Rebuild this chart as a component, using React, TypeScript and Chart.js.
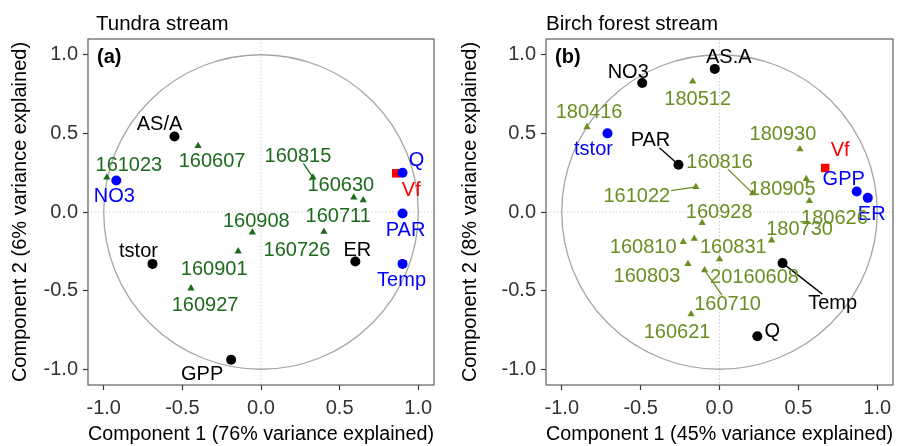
import React, { useEffect, useRef } from 'react';
import { Chart, registerables } from 'chart.js';
Chart.register(...registerables);

// ---------- shared axis ticks ----------
const axisTicks = [-1, -0.5, 0, 0.5, 1];

// ---------- Panel (a) Tundra stream ----------
const aTitle = 'Tundra stream';
const aTag = '(a)';
const aXTitle = 'Component 1 (76% variance explained)';
const aYTitle = 'Component 2 (6% variance explained)';
const aBlackNames = ['AS/A', 'tstor', 'GPP', 'ER'];
const aBlackX = [-0.55, -0.69, -0.19, 0.6];
const aBlackY = [0.48, -0.33, -0.94, -0.315];
const aBlueNames = ['NO3', 'Q', 'PAR', 'Temp'];
const aBlueX = [-0.92, 0.9, 0.9, 0.9];
const aBlueY = [0.2, 0.25, -0.01, -0.33];
const aRedNames = ['Vf'];
const aRedX = [0.86];
const aRedY = [0.246];
const aSampleNames = ['161023', '160607', '160815', '160630', '160711', '160908', '160726', '160901', '160927'];
const aSampleX = [-0.98, -0.4, 0.33, 0.59, 0.65, -0.055, 0.4, -0.145, -0.445];
const aSampleY = [0.22, 0.42, 0.22, 0.093, 0.075, -0.13, -0.125, -0.25, -0.485];

// ---------- Panel (b) Birch forest stream ----------
const bTitle = 'Birch forest stream';
const bTag = '(b)';
const bXTitle = 'Component 1 (45% variance explained)';
const bYTitle = 'Component 2 (8% variance explained)';
const bBlackNames = ['NO3', 'AS.A', 'PAR', 'Temp', 'Q'];
const bBlackX = [-0.49, -0.03, -0.26, 0.4, 0.24];
const bBlackY = [0.82, 0.91, 0.3, -0.325, -0.79];
const bBlueNames = ['tstor', 'GPP', 'ER'];
const bBlueX = [-0.71, 0.87, 0.94];
const bBlueY = [0.5, 0.13, 0.09];
const bRedNames = ['Vf'];
const bRedX = [0.67];
const bRedY = [0.28];
const bSampleNames = ['180512', '180416', '180930', '161022', '160816', '180905', '180626', '160928', '180730', '160810', '160831', '160803', '20160608', '160710', '160621'];
const bSampleX = [-0.17, -0.84, 0.51, -0.15, 0.21, 0.55, 0.57, -0.11, 0.33, -0.23, -0.16, -0.2, 0.0, -0.095, -0.18];
const bSampleY = [0.83, 0.54, 0.4, 0.16, 0.12, 0.21, 0.07, -0.07, -0.18, -0.19, -0.17, -0.33, -0.3, -0.37, -0.65];

// ---------- label placement (pixel offsets from the mark, like ggrepel) ----------
const aBlackLabelOffset = [[-15, -13], [-14, -13], [-29, 14], [2, -12]];
const aBlueLabelOffset = [[-2, 15], [14, -13], [3, 16], [-1, 16]];
const aRedLabelOffset = [[15, 16]];
const aSampleLabelOffset = [[22, -13], [14, 15], [-15, -22], [-13, -13], [-25, 15], [4, -12], [-27, 18], [-24, 17], [14, 16]];
const aBlackLeader = [false, false, false, false];
const aBlueLeader = [false, false, false, false];
const aSampleLeader = [false, false, true, false, false, false, false, false, false];

const bBlackLabelOffset = [[-14, -12], [14, -12], [-28, -25], [50, 39], [15, -6]];
const bBlueLabelOffset = [[-14, 15], [-13, -13], [4, 16]];
const bRedLabelOffset = [[15, -18]];
const bSampleLabelOffset = [[5, 17], [2, -16], [-17, -16], [-59, 9], [-33, -32], [-24, 10], [25, 16], [17, -12], [28, -12], [-40, 5], [39, 8], [-41, 12], [35, 17], [23, 33], [-14, 17]];
const bBlackLeader = [false, false, true, true, false];
const bBlueLeader = [false, false, false];
const bSampleLeader = [false, false, false, true, true, false, false, false, false, false, false, false, false, true, false];

const FONT = '"Liberation Sans", Arial, Helvetica, sans-serif';
const FS = 20;

type Group = { names: string[]; xs: number[]; ys: number[]; offs: number[][]; leaders: boolean[]; color: string };

function pts(xs: number[], ys: number[]) {
  return xs.map((x, i) => ({ x, y: ys[i] }));
}

function makeChart(canvas: HTMLCanvasElement, cfg: any) {
  const groups: Group[] = cfg.groups;
  const decor = {
    id: 'decor',
    beforeDatasetsDraw(chart: any) {
      const { ctx, chartArea: a, scales } = chart;
      const x0 = scales.x.getPixelForValue(0);
      const y0 = scales.y.getPixelForValue(0);
      ctx.save();
      ctx.strokeStyle = '#cfcfcf';
      ctx.lineWidth = 1;
      ctx.setLineDash([1.5, 2]);
      ctx.beginPath();
      ctx.moveTo(x0, a.top); ctx.lineTo(x0, a.bottom);
      ctx.moveTo(a.left, y0); ctx.lineTo(a.right, y0);
      ctx.stroke();
      ctx.setLineDash([]);
      const rx = scales.x.getPixelForValue(1) - x0;
      const ry = y0 - scales.y.getPixelForValue(1);
      ctx.strokeStyle = '#a6a6a6';
      ctx.lineWidth = 1.3;
      ctx.beginPath();
      ctx.ellipse(x0, y0, rx, ry, 0, 0, Math.PI * 2);
      ctx.stroke();
      ctx.restore();
    },
    afterDatasetsDraw(chart: any) {
      const { ctx } = chart;
      ctx.save();
      ctx.font = `${FS}px ${FONT}`;
      ctx.textAlign = 'center';
      ctx.textBaseline = 'middle';
      groups.forEach((g, gi) => {
        const meta = chart.getDatasetMeta(gi);
        g.names.forEach((name, i) => {
          const el = meta.data[i];
          const px = el.x, py = el.y;
          const lx = px + g.offs[i][0];
          const ly = py + g.offs[i][1];
          if (g.leaders[i]) {
            const hw = ctx.measureText(name).width / 2 + 1;
            const hh = 8;
            const dx = px - lx, dy = py - ly;
            let t = 1;
            if (dx !== 0) t = Math.min(t, hw / Math.abs(dx));
            if (dy !== 0) t = Math.min(t, hh / Math.abs(dy));
            const sx = lx + dx * t, sy = ly + dy * t;
            ctx.strokeStyle = g.color;
            ctx.lineWidth = 1.3;
            ctx.beginPath();
            ctx.moveTo(sx, sy);
            ctx.lineTo(px, py);
            ctx.stroke();
          }
        });
      });
      groups.forEach((g, gi) => {
        const meta = chart.getDatasetMeta(gi);
        ctx.fillStyle = g.color;
        g.names.forEach((name, i) => {
          const el = meta.data[i];
          ctx.fillText(name, el.x + g.offs[i][0], el.y + g.offs[i][1] + 1);
        });
      });
      ctx.restore();
    },
    afterDraw(chart: any) {
      const { ctx, chartArea: a } = chart;
      ctx.save();
      ctx.strokeStyle = '#5f5f5f';
      ctx.lineWidth = 1.2;
      ctx.strokeRect(a.left, a.top, a.right - a.left, a.bottom - a.top);
      ctx.fillStyle = '#000';
      ctx.textBaseline = 'alphabetic';
      ctx.textAlign = 'left';
      ctx.font = `20.5px ${FONT}`;
      ctx.fillText(cfg.title, 96, 30);
      ctx.font = `bold ${FS}px ${FONT}`;
      ctx.fillText(cfg.tag, a.left + 9, 63);
      ctx.restore();
    },
  };

  const tickFont = { family: FONT, size: FS };
  const fixTicks = (s: any) => { s.ticks = axisTicks.map((v) => ({ value: v })); };
  return new Chart(canvas, {
    type: 'scatter',
    data: {
      datasets: [
        { data: pts(groups[0].xs, groups[0].ys), pointStyle: 'circle', pointRadius: 5, backgroundColor: '#0000ff', borderColor: '#0000ff', borderWidth: 0 },
        { data: pts(groups[1].xs, groups[1].ys), pointStyle: 'circle', pointRadius: 5, backgroundColor: '#000000', borderColor: '#000000', borderWidth: 0 },
        { data: pts(groups[2].xs, groups[2].ys), pointStyle: 'rect', pointRadius: 6, backgroundColor: '#ff0000', borderColor: '#ff0000', borderWidth: 0 },
        { data: pts(groups[3].xs, groups[3].ys), pointStyle: 'triangle', pointRadius: 4.2, backgroundColor: cfg.green, borderColor: cfg.green, borderWidth: 0 },
      ],
    },
    options: {
      responsive: false,
      animation: false,
      events: [],
      layout: { padding: { left: 0, right: cfg.padRight, top: 39, bottom: 0 } },
      plugins: { legend: { display: false }, tooltip: { enabled: false }, title: { display: false } },
      scales: {
        x: {
          type: 'linear', min: -1.1, max: 1.1,
          afterBuildTicks: fixTicks,
          afterFit: (s: any) => { s.height = 61; },
          ticks: { font: tickFont, color: '#333333', padding: 6, maxRotation: 0, autoSkip: false, callback: (v: any) => Number(v).toFixed(1) },
          grid: { drawOnChartArea: false, drawTicks: true, tickLength: 5, tickColor: '#333333', tickWidth: 1.2 },
          border: { display: false },
          title: { display: true, text: cfg.xTitle, font: { family: FONT, size: FS }, color: '#000', padding: { top: 0, bottom: 0 } },
        },
        y: {
          type: 'linear', min: -1.1, max: 1.1,
          afterBuildTicks: fixTicks,
          afterFit: (s: any) => { s.width = cfg.yWidth; },
          ticks: { font: tickFont, color: '#333333', padding: 5, autoSkip: false, callback: (v: any) => Number(v).toFixed(1) },
          grid: { drawOnChartArea: false, drawTicks: true, tickLength: 5, tickColor: '#333333', tickWidth: 1.2 },
          border: { display: false },
          title: { display: true, text: cfg.yTitle, font: { family: FONT, size: FS }, color: '#000', padding: { top: 8, bottom: 0 } },
        },
      },
    },
    plugins: [decor],
  } as any);
}

const GREEN_A = '#1b6b1b';
const GREEN_B = '#6b8e23';

const panelA = {
  title: aTitle, tag: aTag, xTitle: aXTitle, yTitle: aYTitle, green: GREEN_A, yWidth: 88, padRight: 16,
  groups: [
    { names: aBlueNames, xs: aBlueX, ys: aBlueY, offs: aBlueLabelOffset, leaders: aBlueLeader, color: '#0000ff' },
    { names: aBlackNames, xs: aBlackX, ys: aBlackY, offs: aBlackLabelOffset, leaders: aBlackLeader, color: '#000000' },
    { names: aRedNames, xs: aRedX, ys: aRedY, offs: aRedLabelOffset, leaders: [false], color: '#ff0000' },
    { names: aSampleNames, xs: aSampleX, ys: aSampleY, offs: aSampleLabelOffset, leaders: aSampleLeader, color: GREEN_A },
  ],
};

const panelB = {
  title: bTitle, tag: bTag, xTitle: bXTitle, yTitle: bYTitle, green: GREEN_B, yWidth: 96, padRight: 7,
  groups: [
    { names: bBlueNames, xs: bBlueX, ys: bBlueY, offs: bBlueLabelOffset, leaders: bBlueLeader, color: '#0000ff' },
    { names: bBlackNames, xs: bBlackX, ys: bBlackY, offs: bBlackLabelOffset, leaders: bBlackLeader, color: '#000000' },
    { names: bRedNames, xs: bRedX, ys: bRedY, offs: bRedLabelOffset, leaders: [false], color: '#ff0000' },
    { names: bSampleNames, xs: bSampleX, ys: bSampleY, offs: bSampleLabelOffset, leaders: bSampleLeader, color: GREEN_B },
  ],
};

function Panel({ cfg, left }: { cfg: any; left: number }) {
  const ref = useRef<HTMLCanvasElement>(null);
  useEffect(() => {
    if (!ref.current) return;
    const chart = makeChart(ref.current, cfg);
    return () => chart.destroy();
  }, [cfg]);
  return (
    <canvas
      ref={ref}
      width={450}
      height={446}
      style={{ position: 'absolute', left, top: 0, width: 450, height: 446, display: 'block' }}
    />
  );
}

export default function App() {
  return (
    <div style={{ position: 'fixed', left: 0, top: 0, width: 900, height: 446, background: '#fff', overflow: 'hidden' }}>
      <Panel cfg={panelA} left={0} />
      <Panel cfg={panelB} left={450} />
    </div>
  );
}
